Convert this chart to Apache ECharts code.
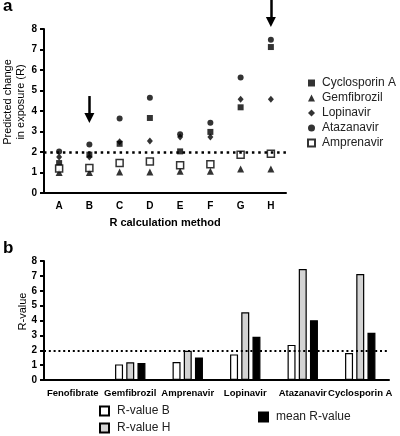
<!DOCTYPE html>
<html>
<head>
<meta charset="utf-8">
<script src="https://cdn.jsdelivr.net/npm/echarts@6/dist/echarts.min.js"></script>
<style>
html,body{margin:0;padding:0;background:#fff;}
#chart{width:400px;height:436px;}
</style>
</head>
<body>
<div id="chart"></div>
<script>
// ---- Panel a data ----
var methods = ['A','B','C','D','E','F','G','H'];
var cyclosporinA = [1.46, 1.87, 2.40, 3.66, 2.03, 2.98, 4.18, 7.12];
var gemfibrozil  = [1.00, 1.00, 1.02, 1.02, 1.06, 1.06, 1.17, 1.17];
var lopinavir    = [1.76, 1.76, 2.50, 2.54, 2.73, 2.73, 4.57, 4.57];
var atazanavir   = [2.03, 2.37, 3.63, 4.65, 2.86, 3.43, 5.63, 7.48];
var amprenavir   = [1.19, 1.22, 1.46, 1.54, 1.35, 1.40, 1.87, 1.92];
var yTicksA = [0,1,2,3,4,5,6,7,8];
var thresholdR = 2;
// arrows: category, start value, end value
var arrowCats  = ['B','H'];
var arrowStart = [4.73, 9.45];
var arrowEnd   = [3.66, 8.34];

// ---- Panel b data ----
var drugs = ['Fenofibrate','Gemfibrozil','Amprenavir','Lopinavir','Atazanavir','Cyclosporin A'];
var rValueB    = [null, 1.05, 1.21, 1.72, 2.36, 1.82];
var rValueH    = [null, 1.19, 1.97, 4.55, 7.46, 7.12];
var meanRValue = [null, 1.14, 1.52, 2.90, 4.02, 3.18];

var FONT = 'Liberation Sans, Arial, sans-serif';
var chart = echarts.init(document.getElementById('chart'), null, {renderer:'canvas'});

function yAxisCommon(gridIndex, name, nameSize, nameGap){
  return {
    type:'value', gridIndex:gridIndex, min:0, max:8, interval:1,
    name:name, nameLocation:'middle', nameRotate:90, nameGap:nameGap,
    nameMoveOverlap:false,
    nameTextStyle:{fontFamily:FONT, fontSize:nameSize, color:'#000', fontWeight:'normal', lineHeight:13, padding:[0,0,0,18]},
    axisLine:{show:true, lineStyle:{color:'#000', width:2}},
    axisTick:{show:true, length:4, lineStyle:{color:'#000', width:2}},
    axisLabel:{fontFamily:FONT, fontSize:10, fontWeight:'bold', color:'#000', margin:7},
    splitLine:{show:false}
  };
}

var dotted = function(width, dash){
  return {
    silent:true, symbol:'none', label:{show:false},
    lineStyle:{color:'#000', width:width, type:dash, opacity:1},
    emphasis:{disabled:true},
    data:[{yAxis:thresholdR}]
  };
};

var option = {
  animation:false,
  backgroundColor:'#fff',
  textStyle:{fontFamily:FONT},
  grid:[
    {left:44, top:29, width:242, height:164, outerBoundsMode:'none', containLabel:false},
    {left:44, top:261, width:345, height:119, outerBoundsMode:'none', containLabel:false}
  ],
  xAxis:[
    {type:'category', gridIndex:0, data:methods, boundaryGap:true,
     name:'R calculation method', nameLocation:'middle', nameGap:24, nameMoveOverlap:false,
     nameTextStyle:{fontFamily:FONT, fontSize:11, fontWeight:'bold', color:'#000'},
     axisLine:{lineStyle:{color:'#000', width:2}},
     axisTick:{alignWithLabel:true, length:4, lineStyle:{color:'#000', width:2}},
     axisLabel:{fontFamily:FONT, fontSize:10, fontWeight:'bold', color:'#000', margin:8, interval:0}},
    {type:'category', gridIndex:1, data:drugs, boundaryGap:true,
     axisLine:{lineStyle:{color:'#000', width:2}},
     axisTick:{alignWithLabel:true, length:4, lineStyle:{color:'#000', width:2}},
     axisLabel:{fontFamily:FONT, fontSize:9.5, fontWeight:'bold', color:'#000', margin:8, interval:0, hideOverlap:false}}
  ],
  yAxis:[
    yAxisCommon(0, 'Predicted change\nin exposure (R)', 11, 17),
    yAxisCommon(1, 'R-value', 11, 15)
  ],
  legend:[
    {data:['Cyclosporin A','Gemfibrozil','Lopinavir','Atazanavir','Amprenavir'],
     orient:'vertical', left:307, top:77, padding:0, itemWidth:7, itemHeight:7, itemGap:3,
     selectedMode:false,
     textStyle:{fontFamily:FONT, fontSize:12, color:'#222', padding:[0,0,0,2]}},
    {data:['R-value B','R-value H'],
     orient:'vertical', left:99, top:405, padding:0, itemWidth:9, itemHeight:9, itemGap:5,
     selectedMode:false, icon:'rect',
     textStyle:{fontFamily:FONT, fontSize:12, color:'#222', padding:[0,0,0,3]}},
    {data:['mean R-value'],
     orient:'vertical', left:258, top:411, padding:0, itemWidth:9, itemHeight:9,
     selectedMode:false, icon:'rect',
     textStyle:{fontFamily:FONT, fontSize:12, color:'#222', padding:[0,0,0,3]}}
  ],
  series:[
    {name:'Cyclosporin A', type:'scatter', xAxisIndex:0, yAxisIndex:0, data:cyclosporinA,
     symbol:'rect', symbolSize:6, itemStyle:{color:'#000'}, z:3,
     markLine:dotted(2.5,[2.5,3.8])},
    {name:'Gemfibrozil', type:'scatter', xAxisIndex:0, yAxisIndex:0, data:gemfibrozil,
     symbol:'triangle', symbolSize:7, itemStyle:{color:'#000'}, z:3},
    {name:'Lopinavir', type:'scatter', xAxisIndex:0, yAxisIndex:0, data:lopinavir,
     symbol:'diamond', symbolSize:[6,7], itemStyle:{color:'#000'}, z:3},
    {name:'Atazanavir', type:'scatter', xAxisIndex:0, yAxisIndex:0, data:atazanavir,
     symbol:'circle', symbolSize:6, itemStyle:{color:'#000'}, z:3},
    {name:'Amprenavir', type:'scatter', xAxisIndex:0, yAxisIndex:0, data:amprenavir,
     symbol:'rect', symbolSize:7, itemStyle:{color:'#fff', borderColor:'#000', borderWidth:1.5}, z:4},
    {name:'arrows', type:'lines', coordinateSystem:'cartesian2d', xAxisIndex:0, yAxisIndex:0,
     clip:false, silent:true, symbol:['none','triangle'], symbolSize:[7,10],
     lineStyle:{color:'#000', width:2.5, opacity:1, curveness:0},
     z:5,
     data:arrowCats.map(function(c,i){ return {coords:[[c, arrowStart[i]],[c, arrowEnd[i]]]}; })},
    {name:'R-value B', type:'bar', xAxisIndex:1, yAxisIndex:1, data:rValueB,
     barWidth:8, barGap:'40%',
     itemStyle:{color:'#fff', borderColor:'#000', borderWidth:1.2},
     markLine:dotted(2,[2,2.8])},
    {name:'R-value H', type:'bar', xAxisIndex:1, yAxisIndex:1, data:rValueH,
     barWidth:8, barGap:'40%',
     itemStyle:{color:'#d3d3d3', borderColor:'#000', borderWidth:1.2}},
    {name:'mean R-value', type:'bar', xAxisIndex:1, yAxisIndex:1, data:meanRValue,
     barWidth:8, barGap:'40%',
     itemStyle:{color:'#000', borderColor:'#000', borderWidth:1.2}}
  ],
  graphic:[
    {type:'text', left:3, top:-2, style:{text:'a', font:'bold 17px '+FONT, fill:'#000'}},
    {type:'text', left:3, top:240, style:{text:'b', font:'bold 17px '+FONT, fill:'#000'}}
  ]
};
chart.setOption(option);
</script>
</body>
</html>
